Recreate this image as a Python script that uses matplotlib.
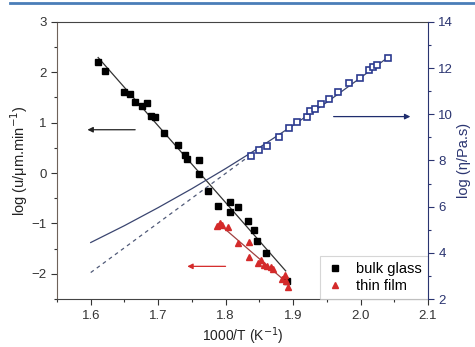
import numpy as np
import matplotlib
matplotlib.use("Agg")
import matplotlib.pyplot as plt
from matplotlib.lines import Line2D

plt.rcParams['font.family'] = ['Liberation Sans', 'DejaVu Sans']

# Crystal growth rate, bulk glass (left axis)
bulk_x = [1.611, 1.621, 1.650, 1.658, 1.666, 1.676, 1.683, 1.689, 1.695, 1.709,
          1.730, 1.740, 1.742, 1.761, 1.761, 1.774, 1.789, 1.806, 1.806, 1.819,
          1.833, 1.842, 1.846, 1.860, 1.891]
bulk_y = [2.21, 2.03, 1.60, 1.57, 1.41, 1.33, 1.39, 1.14, 1.11, 0.79,
          0.55, 0.35, 0.28, 0.26, -0.01, -0.36, -0.65, -0.58, -0.78, -0.68,
          -0.96, -1.13, -1.34, -1.58, -2.14]

# Crystal growth rate, thin film (left axis)
film_x = [1.787, 1.792, 1.794, 1.803, 1.818, 1.834, 1.835, 1.848, 1.853, 1.857,
          1.862, 1.867, 1.870, 1.883, 1.888, 1.890, 1.893]
film_y = [-1.04, -1.00, -1.02, -1.06, -1.38, -1.36, -1.66, -1.78, -1.73, -1.82,
          -1.84, -1.87, -1.91, -2.11, -2.02, -2.15, -2.26]

# Viscosity (right axis)
visc_x = [1.838, 1.849, 1.861, 1.879, 1.894, 1.906, 1.920, 1.925, 1.932, 1.941,
          1.954, 1.966, 1.983, 1.999, 2.012, 2.018, 2.025, 2.040]
visc_y = [8.21, 8.45, 8.63, 9.02, 9.39, 9.65, 9.88, 10.16, 10.23, 10.43,
          10.65, 10.98, 11.34, 11.56, 11.92, 12.04, 12.14, 12.43]

# Viscosity model curve and its linear extrapolation (right axis)
vft_x = [1.60, 1.65, 1.70, 1.75, 1.80, 1.85, 1.90, 1.95, 2.00, 2.04]
vft_y = [4.45, 5.18, 5.96, 6.78, 7.65, 8.56, 9.52, 10.52, 11.58, 12.45]
arr_x = [1.60, 1.84]
arr_y = [3.15, 8.30]

navy = '#2b3a8f'
red = '#d42a2a'

fig = plt.figure(figsize=(4.75, 3.47), dpi=100)
ax = fig.add_axes([0.12, 0.138, 0.781, 0.799])
ax2 = ax.twinx()

# Linear fits of the growth rates
bx = np.array(bulk_x); by = np.array(bulk_y)
pb = np.polyfit(bx, by, 1)
xb = np.array([bx.min(), bx.max() - 0.002])
ax.plot(xb, np.polyval(pb, xb), color='#333333', lw=0.9, zorder=2)

fx = np.array(film_x); fy = np.array(film_y)
pf = np.polyfit(fx, fy, 1)
xf = np.array([fx.min() + 0.003, fx.max() - 0.003])
ax.plot(xf, np.polyval(pf, xf), color='#a04040', lw=0.9, zorder=2)

ax.plot(bulk_x, bulk_y, 's', color='black', ms=4.4, zorder=3, label='bulk glass')
ax.plot(film_x, film_y, '^', color=red, ms=5, zorder=3, label='thin film')

ax2.plot(vft_x, vft_y, '-', color='#3a4570', lw=0.9, zorder=2)
ax2.plot(arr_x, arr_y, '--', color='#505a78', lw=0.9, dashes=(3, 3), zorder=2)
ax2.plot(visc_x, visc_y, 's', mfc='white', mec=navy, mew=1.2, ms=4.2, zorder=3)

# Arrows pointing to the relevant axis
ax.annotate('', xy=(1.591, 0.86), xytext=(1.670, 0.86),
            arrowprops=dict(arrowstyle='-|>', color='#222222', lw=0.9,
                            mutation_scale=8))
ax.annotate('', xy=(1.739, -1.85), xytext=(1.804, -1.85),
            arrowprops=dict(arrowstyle='-|>', color=red, lw=0.9,
                            mutation_scale=8))
ax2.annotate('', xy=(2.078, 9.90), xytext=(1.956, 9.90),
             arrowprops=dict(arrowstyle='-|>', color='#1f2d6e', lw=0.9,
                             mutation_scale=8))

ax.set_xlim(1.55, 2.1)
ax.set_ylim(-2.5, 3)
ax2.set_ylim(2, 14)

ax.set_xticks([1.6, 1.7, 1.8, 1.9, 2.0, 2.1])
ax.set_xticklabels(['1.6', '1.7', '1.8', '1.9', '2.0', '2.1'])
ax.set_xticks(np.arange(1.55, 2.11, 0.05), minor=True)
ax.set_yticks([-2, -1, 0, 1, 2, 3])
ax.set_yticks(np.arange(-2.5, 3.01, 0.5), minor=True)
ax2.set_yticks([2, 4, 6, 8, 10, 12, 14])
ax2.set_yticks(np.arange(2, 14.1, 1), minor=True)

ax.tick_params(which='major', direction='out', length=4, width=0.8,
               labelsize=9.5, colors='#333333')
ax.tick_params(which='minor', direction='out', length=2, width=0.8,
               colors='#333333')
ax2.tick_params(which='major', direction='out', length=4, width=0.8,
                labelsize=9.5, colors='#2a3470')
ax2.tick_params(which='minor', direction='out', length=2, width=0.8,
                colors='#2a3470')

for side in ['top', 'bottom']:
    ax.spines[side].set_color('#444444')
ax.spines['left'].set_color('#6e625a')
ax2.spines['right'].set_color('#2a3470')
ax2.spines['left'].set_visible(False)
ax2.spines['top'].set_visible(False)
ax2.spines['bottom'].set_visible(False)
ax.spines['right'].set_visible(False)

ax.set_xlabel('1000/T (K$^{-1}$)', fontsize=10, color='#222222', labelpad=3)
ax.set_ylabel('log (u/\u03bcm.min$^{-1}$)', fontsize=10.5, color='#222222',
              labelpad=1)
ax2.set_ylabel('log (\u03b7/Pa.s)', fontsize=10.5, color='#2a3470', labelpad=3)

leg = ax.legend(loc='lower right', fontsize=10.5, frameon=True, fancybox=False,
                edgecolor='#cccccc', borderaxespad=0.0, handlelength=1.2,
                handletextpad=0.9, borderpad=0.4, labelspacing=0.25)
leg.get_frame().set_linewidth(0.8)

# Page rule along the top edge
fig.add_artist(Line2D([0.02, 1.0], [0.99, 0.99], transform=fig.transFigure,
                      color='#4a7db8', lw=2))

fig.savefig('out.png', dpi=100)
